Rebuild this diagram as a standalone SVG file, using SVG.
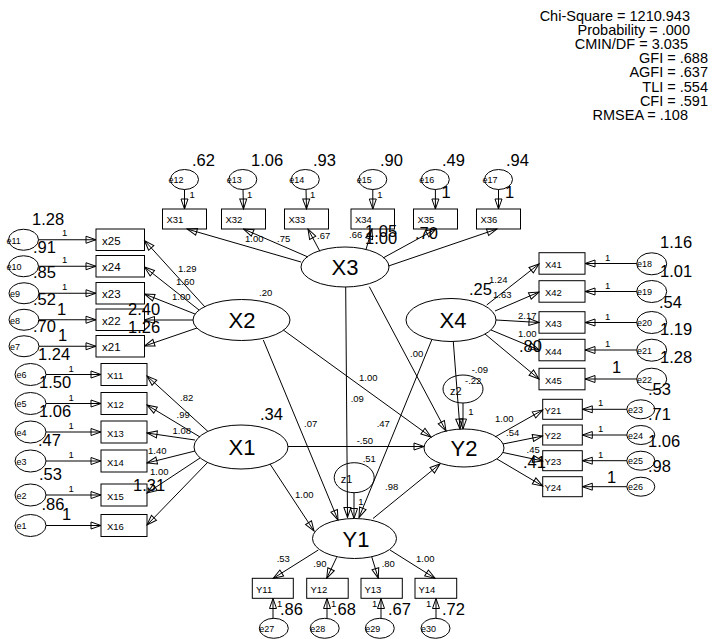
<svg xmlns="http://www.w3.org/2000/svg" width="714" height="639" viewBox="0 0 714 639">
<defs>
<style>
text{font-family:"Liberation Sans",Arial,sans-serif;fill:#000}
.s{font-size:9.5px}
.b{font-size:16.5px}
.n{font-size:9.5px}
.nl{font-size:11.5px}
.L{font-size:22px;text-anchor:middle}
.e{font-size:9px}
.z{font-size:11px}
.st{font-size:14.5px;text-anchor:end}
rect,ellipse{fill:none;stroke:#000;stroke-width:1}
.c line{stroke:#000;stroke-width:1;marker-end:url(#a)}
</style>
<marker id="a" viewBox="0 0 12 9" refX="11" refY="4.5" markerWidth="12" markerHeight="9" markerUnits="userSpaceOnUse" orient="auto"><path d="M1,1 L11,4.5 L1,8 z" fill="none" stroke="#000" stroke-width="1"/></marker>
</defs>
<rect x="0" y="0" width="714" height="639" style="fill:#fff;stroke:none"/>

<g id="stats">
<text class="st" x="690" y="21">Chi-Square = 1210.943</text>
<text class="st" x="690" y="35">Probability = .000</text>
<text class="st" x="688" y="49">CMIN/DF = 3.035</text>
<text class="st" x="708" y="63">GFI = .688</text>
<text class="st" x="708" y="77">AGFI = .637</text>
<text class="st" x="708" y="92">TLI = .554</text>
<text class="st" x="708" y="106">CFI = .591</text>
<text class="st" x="688" y="120">RMSEA = .108</text>
</g>

<g class="c" id="connectors">
<!-- e -> X3 indicators -->
<line x1="184.5" y1="189.5" x2="184.5" y2="209"/>
<line x1="243" y1="189.5" x2="243.5" y2="209"/>
<line x1="306" y1="189.5" x2="306.5" y2="209"/>
<line x1="372.8" y1="189.5" x2="372.8" y2="209"/>
<line x1="435.4" y1="189.5" x2="435.4" y2="209"/>
<line x1="498.5" y1="189.5" x2="498.5" y2="209"/>
<!-- X3 loadings -->
<line x1="301" y1="262" x2="187" y2="229"/>
<line x1="308" y1="257" x2="243.5" y2="229"/>
<line x1="320" y1="251.5" x2="308" y2="229"/>
<line x1="366" y1="249.5" x2="372" y2="229"/>
<line x1="383" y1="258" x2="436" y2="229"/>
<line x1="388.5" y1="266" x2="497" y2="229"/>
<!-- e -> X2 indicators -->
<line x1="38.5" y1="239.75" x2="96" y2="239.75"/>
<line x1="38.5" y1="266.25" x2="96" y2="266.25"/>
<line x1="39" y1="293.25" x2="96" y2="293.25"/>
<line x1="39" y1="319.75" x2="96" y2="319.75"/>
<line x1="39" y1="346.25" x2="96" y2="346.25"/>
<!-- X2 loadings -->
<line x1="205" y1="307" x2="144.5" y2="240.5"/>
<line x1="199" y1="310" x2="144.5" y2="267"/>
<line x1="195" y1="314" x2="144.5" y2="294"/>
<line x1="193" y1="320" x2="144.5" y2="320"/>
<line x1="197" y1="328" x2="144.5" y2="346"/>
<!-- e -> X1 indicators -->
<line x1="46" y1="374.5" x2="101" y2="374.5"/>
<line x1="46" y1="403.5" x2="101" y2="403.5"/>
<line x1="46" y1="432" x2="101" y2="432"/>
<line x1="46" y1="461" x2="101" y2="461"/>
<line x1="46" y1="495" x2="101" y2="495"/>
<line x1="46" y1="525.5" x2="101" y2="525.5"/>
<!-- X1 loadings -->
<line x1="208" y1="431.5" x2="147" y2="376"/>
<line x1="200" y1="437" x2="147" y2="405"/>
<line x1="195" y1="440" x2="147" y2="433"/>
<line x1="195" y1="451" x2="147" y2="463"/>
<line x1="200" y1="458" x2="147" y2="493"/>
<line x1="208" y1="462" x2="147" y2="525"/>
<!-- e -> X4 indicators -->
<line x1="636.7" y1="263.5" x2="585" y2="263.5"/>
<line x1="636.7" y1="291.5" x2="585" y2="291.5"/>
<line x1="636.7" y1="322.5" x2="585" y2="322.5"/>
<line x1="636.7" y1="350" x2="585" y2="350"/>
<line x1="636.7" y1="379" x2="585" y2="379"/>
<!-- X4 loadings -->
<line x1="486.7" y1="305" x2="539" y2="264"/>
<line x1="495" y1="311" x2="539" y2="292"/>
<line x1="496" y1="320" x2="539" y2="322.5"/>
<line x1="491" y1="330" x2="539" y2="350"/>
<line x1="485" y1="334" x2="539" y2="379"/>
<!-- e -> Y2 indicators -->
<line x1="626.8" y1="409.3" x2="582.3" y2="409.3"/>
<line x1="626.8" y1="435" x2="582.3" y2="435"/>
<line x1="626.8" y1="460.7" x2="582.3" y2="460.7"/>
<line x1="626.8" y1="486.7" x2="582.3" y2="486.7"/>
<!-- Y2 loadings -->
<line x1="495" y1="437" x2="542.7" y2="410"/>
<line x1="503" y1="444" x2="542.7" y2="436"/>
<line x1="503" y1="452.5" x2="542.7" y2="461"/>
<line x1="497" y1="459" x2="542.7" y2="486"/>
<!-- e -> Y1 indicators -->
<line x1="273" y1="618.5" x2="273" y2="598.5"/>
<line x1="327" y1="618.5" x2="327" y2="598.5"/>
<line x1="381" y1="618.5" x2="381" y2="598.5"/>
<line x1="436" y1="618.5" x2="436" y2="598.5"/>
<!-- Y1 loadings -->
<line x1="318.3" y1="550" x2="273.3" y2="578.3"/>
<line x1="336.7" y1="557.3" x2="326.7" y2="578.3"/>
<line x1="371.7" y1="556.7" x2="378.3" y2="578.3"/>
<line x1="390" y1="550" x2="435" y2="578.3"/>
<!-- structural -->
<line x1="270" y1="464" x2="314" y2="531"/>
<line x1="263.3" y1="340" x2="338" y2="520"/>
<line x1="345.7" y1="287" x2="347.5" y2="517.5"/>
<line x1="354" y1="492.5" x2="354" y2="518.5"/>
<line x1="431.7" y1="340" x2="359" y2="517.5"/>
<line x1="288" y1="446.5" x2="424" y2="446.5"/>
<line x1="283.3" y1="330" x2="431" y2="437"/>
<line x1="369.3" y1="286.7" x2="446" y2="431"/>
<line x1="453.3" y1="341.7" x2="460" y2="429"/>
<line x1="463" y1="403" x2="463" y2="429"/>
<line x1="373" y1="518.5" x2="440" y2="464"/>
</g>

<!-- X3 block -->
<g id="X3"><ellipse cx="345" cy="267" rx="44" ry="20"/><text class="L" x="345" y="275">X3</text></g>
<g id="X31"><rect x="162.5" y="209" width="44" height="20"/><text class="n" x="166.5" y="222.5">X31</text></g>
<g id="X32"><rect x="221.5" y="209" width="44" height="20"/><text class="n" x="225.5" y="222.5">X32</text></g>
<g id="X33"><rect x="284.5" y="209" width="44" height="20"/><text class="n" x="288.5" y="222.5">X33</text></g>
<g id="X34"><rect x="351" y="209" width="43.5" height="20"/><text class="n" x="355" y="222.5">X34</text></g>
<g id="X35"><rect x="413.5" y="209" width="44" height="20"/><text class="n" x="417.5" y="222.5">X35</text></g>
<g id="X36"><rect x="476.5" y="209" width="44" height="20"/><text class="n" x="480.5" y="222.5">X36</text></g>
<g id="e12"><ellipse cx="184.5" cy="179.5" rx="14" ry="10"/><text class="e" x="168.5" y="183">e12</text></g>
<g id="e13"><ellipse cx="242.8" cy="179.5" rx="14" ry="10"/><text class="e" x="226.8" y="183">e13</text></g>
<g id="e14"><ellipse cx="305.3" cy="179.5" rx="14" ry="10"/><text class="e" x="289.3" y="183">e14</text></g>
<g id="e15"><ellipse cx="372.8" cy="179.5" rx="14" ry="10"/><text class="e" x="356.8" y="183">e15</text></g>
<g id="e16"><ellipse cx="435.3" cy="179.5" rx="14" ry="10"/><text class="e" x="419.3" y="183">e16</text></g>
<g id="e17"><ellipse cx="498.5" cy="179.5" rx="14" ry="10"/><text class="e" x="482.5" y="183">e17</text></g>

<!-- X2 block -->
<g id="X2"><ellipse cx="241.5" cy="320" rx="48.5" ry="20.5"/><text class="L" x="242" y="328">X2</text></g>
<g id="x25"><rect x="96" y="229" width="48.5" height="21.5"/><text class="nl" x="102" y="244.5">x25</text></g>
<g id="x24"><rect x="96" y="255.5" width="48.5" height="21.5"/><text class="nl" x="102" y="271">x24</text></g>
<g id="x23"><rect x="96" y="282.5" width="48.5" height="21.5"/><text class="nl" x="102" y="298">x23</text></g>
<g id="x22"><rect x="96" y="309" width="48.5" height="21.5"/><text class="nl" x="102" y="324.5">x22</text></g>
<g id="x21"><rect x="96" y="335.5" width="48.5" height="21.5"/><text class="nl" x="102" y="351">x21</text></g>
<g id="e11"><ellipse cx="23.5" cy="239.75" rx="15" ry="10.5"/><text class="e" x="6.5" y="243.5">e11</text></g>
<g id="e10"><ellipse cx="23.5" cy="266.25" rx="15" ry="10.5"/><text class="e" x="6.5" y="270">e10</text></g>
<g id="e9"><ellipse cx="24" cy="293.25" rx="15" ry="10.5"/><text class="e" x="10" y="297">e9</text></g>
<g id="e8"><ellipse cx="24" cy="319.75" rx="15" ry="10.5"/><text class="e" x="10" y="323.5">e8</text></g>
<g id="e7"><ellipse cx="24" cy="346.25" rx="15" ry="10.5"/><text class="e" x="10" y="350">e7</text></g>

<!-- X1 block -->
<g id="X1"><ellipse cx="241" cy="447" rx="47" ry="22"/><text class="L" x="242" y="455">X1</text></g>
<g id="X11"><rect x="101" y="363.5" width="46" height="22"/><text class="n" x="107" y="379">X11</text></g>
<g id="X12"><rect x="101" y="392.5" width="46" height="22"/><text class="n" x="107" y="408">X12</text></g>
<g id="X13"><rect x="101" y="421" width="46" height="22"/><text class="n" x="107" y="436.5">X13</text></g>
<g id="X14"><rect x="101" y="450" width="46" height="22"/><text class="n" x="107" y="465.5">X14</text></g>
<g id="X15"><rect x="101" y="484" width="46" height="22"/><text class="n" x="107" y="499.5">X15</text></g>
<g id="X16"><rect x="101" y="514.5" width="46" height="22"/><text class="n" x="107" y="530">X16</text></g>
<g id="e6"><ellipse cx="30.5" cy="374.5" rx="15.5" ry="11"/><text class="e" x="16.5" y="378">e6</text></g>
<g id="e5"><ellipse cx="30.5" cy="403.5" rx="15.5" ry="11"/><text class="e" x="16.5" y="407">e5</text></g>
<g id="e4"><ellipse cx="30.5" cy="432" rx="15.5" ry="11"/><text class="e" x="16.5" y="435.5">e4</text></g>
<g id="e3"><ellipse cx="30.5" cy="461" rx="15.5" ry="11"/><text class="e" x="16.5" y="464.5">e3</text></g>
<g id="e2"><ellipse cx="30.5" cy="495" rx="15.5" ry="11"/><text class="e" x="16.5" y="498.5">e2</text></g>
<g id="e1"><ellipse cx="30.5" cy="525.5" rx="15.5" ry="11"/><text class="e" x="16.5" y="529">e1</text></g>

<!-- X4 block -->
<g id="X4"><ellipse cx="451" cy="320" rx="45" ry="21.5"/><text class="L" x="453" y="328">X4</text></g>
<g id="X41"><rect x="539" y="252.7" width="46" height="21.5"/><text class="n" x="545" y="268">X41</text></g>
<g id="X42"><rect x="539" y="280.7" width="46" height="21.5"/><text class="n" x="545" y="296">X42</text></g>
<g id="X43"><rect x="539" y="311.7" width="46" height="21.5"/><text class="n" x="545" y="327">X43</text></g>
<g id="X44"><rect x="539" y="339.3" width="46" height="21.5"/><text class="n" x="545" y="354.5">X44</text></g>
<g id="X45"><rect x="539" y="368.3" width="46" height="21.5"/><text class="n" x="545" y="383.5">X45</text></g>
<g id="e18"><ellipse cx="651.7" cy="263.8" rx="15" ry="11"/><text class="e" x="637" y="267.3">e18</text></g>
<g id="e19"><ellipse cx="651.7" cy="291.5" rx="15" ry="11"/><text class="e" x="637" y="295">e19</text></g>
<g id="e20"><ellipse cx="651.7" cy="322.5" rx="15" ry="11"/><text class="e" x="637" y="326">e20</text></g>
<g id="e21"><ellipse cx="651.7" cy="350.2" rx="15" ry="11"/><text class="e" x="637" y="353.7">e21</text></g>
<g id="e22"><ellipse cx="651.7" cy="379.2" rx="15" ry="11"/><text class="e" x="637" y="382.7">e22</text></g>

<!-- Y2 block -->
<g id="Y2"><ellipse cx="464" cy="448" rx="40" ry="19"/><text class="L" x="464" y="456">Y2</text></g>
<g id="z2"><ellipse cx="463" cy="389" rx="20" ry="14"/><text class="z" x="450" y="394.5">z2</text></g>
<g id="Y21"><rect x="542.7" y="399.3" width="39.6" height="20"/><text class="n" x="544.5" y="413.5">Y21</text></g>
<g id="Y22"><rect x="542.7" y="425" width="39.6" height="20"/><text class="n" x="544.5" y="439">Y22</text></g>
<g id="Y23"><rect x="542.7" y="450.7" width="39.6" height="20"/><text class="n" x="544.5" y="465">Y23</text></g>
<g id="Y24"><rect x="542.7" y="476.7" width="39.6" height="20"/><text class="n" x="544.5" y="491">Y24</text></g>
<g id="e23"><ellipse cx="640.8" cy="409.3" rx="14" ry="9.5"/><text class="e" x="628" y="412.8">e23</text></g>
<g id="e24"><ellipse cx="640.8" cy="435" rx="14" ry="9.5"/><text class="e" x="628" y="438.5">e24</text></g>
<g id="e25"><ellipse cx="640.8" cy="460.7" rx="14" ry="9.5"/><text class="e" x="628" y="464.2">e25</text></g>
<g id="e26"><ellipse cx="640.8" cy="486.7" rx="14" ry="9.5"/><text class="e" x="628" y="490.2">e26</text></g>

<!-- Y1 block -->
<g id="Y1"><ellipse cx="354.5" cy="538.5" rx="42" ry="20"/><text class="L" x="356" y="546.5">Y1</text></g>
<g id="z1"><ellipse cx="354.2" cy="477.7" rx="20" ry="15"/><text class="z" x="340.7" y="483">z1</text></g>
<g id="Y11"><rect x="252.3" y="578.3" width="41" height="20"/><text class="n" x="256" y="592.5">Y11</text></g>
<g id="Y12"><rect x="306.7" y="578.3" width="41.5" height="20"/><text class="n" x="310.5" y="592.5">Y12</text></g>
<g id="Y13"><rect x="361" y="578.3" width="41.3" height="20"/><text class="n" x="364.5" y="592.5">Y13</text></g>
<g id="Y14"><rect x="415" y="578.3" width="41.7" height="20"/><text class="n" x="418.5" y="592.5">Y14</text></g>
<g id="e27"><ellipse cx="273.8" cy="628.3" rx="14.5" ry="10"/><text class="e" x="259.3" y="632">e27</text></g>
<g id="e28"><ellipse cx="324.7" cy="628.3" rx="14.5" ry="10"/><text class="e" x="310.2" y="632">e28</text></g>
<g id="e29"><ellipse cx="379.8" cy="628.3" rx="14.5" ry="10"/><text class="e" x="365.3" y="632">e29</text></g>
<g id="e30"><ellipse cx="435.5" cy="628.3" rx="14.5" ry="10"/><text class="e" x="421" y="632">e30</text></g>

<g id="labels">
<!-- top variances and 1s -->
<text class="b" x="192" y="166">.62</text>
<text class="b" x="251" y="166">1.06</text>
<text class="b" x="313" y="166">.93</text>
<text class="b" x="380" y="166">.90</text>
<text class="b" x="442" y="166">.49</text>
<text class="b" x="506" y="166">.94</text>
<text class="s" x="189.5" y="198">1</text>
<text class="s" x="247" y="198">1</text>
<text class="s" x="310" y="198">1</text>
<text class="s" x="377.3" y="198">1</text>
<text class="b" x="441.5" y="198">1</text>
<text class="b" x="505" y="198">1</text>
<!-- X3 loadings -->
<text class="s" x="245" y="242">1.00</text>
<text class="s" x="277" y="242">.75</text>
<text class="s" x="317" y="239">.67</text>
<text class="s" x="349" y="238">.66</text>
<text class="b" x="365" y="236.5">1.05</text>
<text class="b" x="365" y="243.5">1.00</text>
<text class="b" x="415" y="239">.70</text>
<!-- X2 side -->
<text class="b" x="32" y="225">1.28</text>
<text class="b" x="33" y="252.5">.91</text>
<text class="b" x="33" y="278">.85</text>
<text class="b" x="33" y="305">.52</text>
<text class="b" x="33" y="332">.70</text>
<text class="b" x="38" y="360">1.24</text>
<text class="s" x="62" y="236">1</text>
<text class="s" x="62" y="262.5">1</text>
<text class="s" x="62" y="289.5">1</text>
<text class="b" x="57" y="315">1</text>
<text class="b" x="58" y="341">1</text>
<text class="b" x="128" y="315">2.40</text>
<text class="b" x="128" y="333">1.26</text>
<text class="s" x="178" y="271.5">1.29</text>
<text class="s" x="176" y="285">1.60</text>
<text class="s" x="172" y="300">1.00</text>
<text class="s" x="259" y="296">.20</text>
<!-- X1 side -->
<text class="b" x="39" y="388">1.50</text>
<text class="b" x="39" y="417">1.06</text>
<text class="b" x="38" y="446">.47</text>
<text class="b" x="39" y="480">.53</text>
<text class="b" x="41.5" y="510">.86</text>
<text class="s" x="68.5" y="371.5">1</text>
<text class="s" x="68.5" y="400.5">1</text>
<text class="s" x="68.5" y="429">1</text>
<text class="s" x="68.5" y="458">1</text>
<text class="s" x="68.5" y="492">1</text>
<text class="b" x="62" y="520">1</text>
<text class="s" x="180" y="401">.82</text>
<text class="s" x="176.5" y="417.5">.99</text>
<text class="s" x="172.5" y="434">1.08</text>
<text class="s" x="148" y="454">1.40</text>
<text class="s" x="150" y="475">1.00</text>
<text class="b" x="133" y="491">1.31</text>
<text class="b" x="260" y="420">.34</text>
<!-- X4 side -->
<text class="b" x="469" y="295">.25</text>
<text class="s" x="489" y="283">1.24</text>
<text class="s" x="493" y="298">1.63</text>
<text class="s" x="518" y="319">2.17</text>
<text class="s" x="518" y="336.5">1.00</text>
<text class="b" x="519" y="352">.80</text>
<text class="s" x="605" y="260.5">1</text>
<text class="s" x="605" y="288.5">1</text>
<text class="s" x="605" y="319.5">1</text>
<text class="s" x="605" y="347">1</text>
<text class="b" x="612" y="373">1</text>
<text class="b" x="660" y="248">1.16</text>
<text class="b" x="660" y="276.5">1.01</text>
<text class="b" x="659" y="308">.54</text>
<text class="b" x="660" y="335">1.19</text>
<text class="b" x="660" y="363">1.28</text>
<text class="b" x="648" y="395">.53</text>
<!-- Y2 side -->
<text class="s" x="495" y="421.5">1.00</text>
<text class="s" x="506" y="436">.54</text>
<text class="s" x="526.5" y="453">.45</text>
<text class="b" x="523" y="468">.41</text>
<text class="s" x="598" y="406.3">1</text>
<text class="s" x="598" y="432">1</text>
<text class="s" x="598" y="457.7">1</text>
<text class="b" x="607" y="483">1</text>
<text class="b" x="648" y="420">.71</text>
<text class="b" x="648" y="446.5">1.06</text>
<text class="b" x="648" y="471.5">.98</text>
<text class="s" x="471.7" y="372.7">-.09</text>
<text class="s" x="465" y="384">-.22</text>
<text class="s" x="468.3" y="415">1</text>
<!-- structural labels -->
<text class="s" x="359" y="381">1.00</text>
<text class="s" x="350.7" y="401.7">.09</text>
<text class="s" x="304" y="426.7">.07</text>
<text class="s" x="376.7" y="426.7">.47</text>
<text class="s" x="410" y="356.7">.00</text>
<text class="s" x="356.7" y="444">-.50</text>
<text class="s" x="362.7" y="461.7">.51</text>
<text class="s" x="385" y="490">.98</text>
<text class="s" x="295" y="498">1.00</text>
<text class="s" x="358.3" y="505">1</text>
<!-- Y1 side -->
<text class="s" x="276.7" y="561.7">.53</text>
<text class="s" x="313.3" y="566.7">.90</text>
<text class="s" x="381.7" y="566.7">.80</text>
<text class="s" x="416" y="561.7">1.00</text>
<text class="s" x="277" y="607">1</text>
<text class="s" x="331" y="607">1</text>
<text class="s" x="372" y="607">1</text>
<text class="s" x="426" y="607">1</text>
<text class="b" x="280" y="615">.86</text>
<text class="b" x="333" y="615">.68</text>
<text class="b" x="388" y="615">.67</text>
<text class="b" x="442" y="615">.72</text>
</g>
</svg>
